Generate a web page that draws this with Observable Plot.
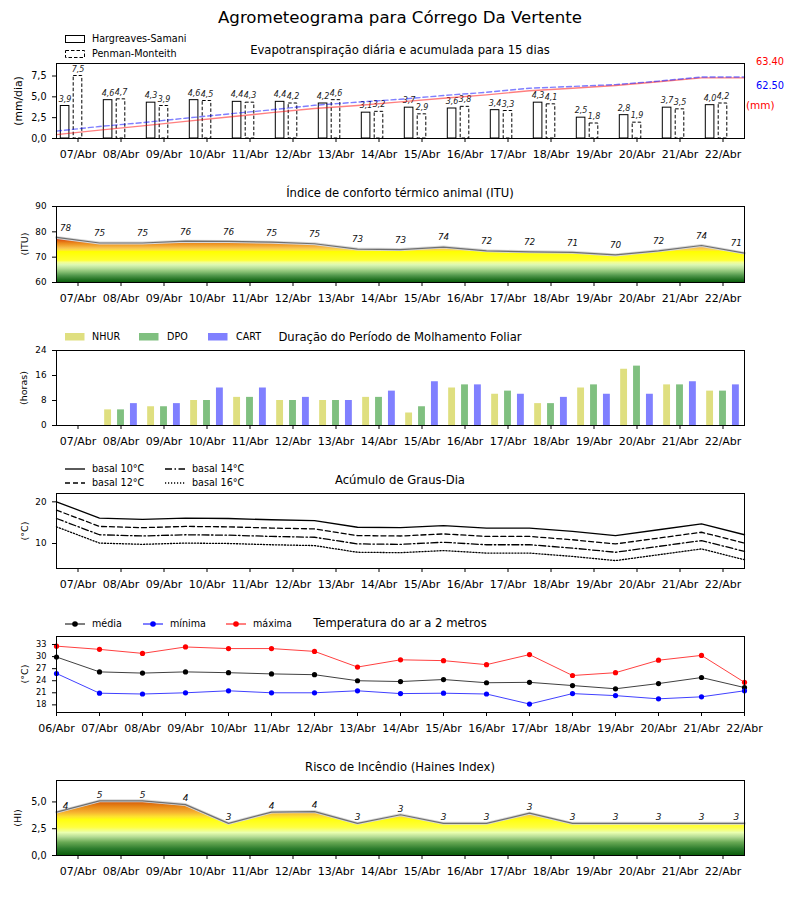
<!DOCTYPE html>
<html><head><meta charset="utf-8">
<script src="https://cdn.jsdelivr.net/npm/d3@7"></script>
<script src="https://cdn.jsdelivr.net/npm/@observablehq/plot@0.6"></script>
<style>
body{margin:0;background:#fff;font-family:"DejaVu Sans",sans-serif;}
#wrap{position:relative;width:800px;height:900px;overflow:hidden;background:#fff;}
</style></head>
<body><div id="wrap"></div>
<script>
// ---------------- DATA ----------------
const days = ["06/Abr","07/Abr","08/Abr","09/Abr","10/Abr","11/Abr","12/Abr","13/Abr","14/Abr","15/Abr","16/Abr","17/Abr","18/Abr","19/Abr","20/Abr","21/Abr","22/Abr"];
const forecastDays = days.slice(1);

const mainTitle = "Agrometeograma para Córrego Da Vertente";
const panelTitles = [
  "Evapotranspiração diária e acumulada para 15 dias",
  "Índice de conforto térmico animal (ITU)",
  "Duração do Período de Molhamento Foliar",
  "Acúmulo de Graus-Dia",
  "Temperatura do ar a 2 metros",
  "Risco de Incêndio (Haines Index)"
];

// Evapotranspiration (mm/dia), 07/Abr..22/Abr
const etHargreaves = [3.9,4.6,4.3,4.6,4.4,4.4,4.2,3.1,3.7,3.6,3.4,4.3,2.5,2.8,3.7,4.0];
const etPenman     = [7.5,4.7,3.9,4.5,4.3,4.2,4.6,3.2,2.9,3.8,3.3,4.1,1.8,1.9,3.5,4.2];
const etTotals = [63.40, 62.50];
const etSeriesNames = ["Hargreaves-Samani","Penman-Monteith"];

// ITU, 06/Abr..22/Abr
const ituLine   = [77.8,75.6,75.6,76.3,76.2,75.9,75.3,73.2,73.0,74.0,72.5,72.1,71.9,70.9,72.5,74.6,71.6];
const ituLabels = [78,75,75,76,76,75,75,73,73,74,72,72,71,70,72,74,71];

// Leaf wetness (horas), 07/Abr..22/Abr
const nhur = [0,5,6,8,9,8,8,9,4,12,10,7,12,18,13,11];
const dpo  = [0,5,6,8,9,8,8,9,6,13,11,7,13,19,13,11];
const cart = [0,7,7,12,12,9,8,11,14,13,10,9,10,10,14,13];
const wetNames = ["NHUR","DPO","CART"];

// Degree-days, 06/Abr..22/Abr
const gd10 = [20.0,16.1,15.8,16.1,16.0,15.7,15.5,13.9,13.8,14.3,13.7,13.7,12.9,11.9,13.3,14.7,12.1];
const gd12 = [18.0,14.1,13.8,14.1,14.0,13.7,13.5,11.9,11.8,12.3,11.7,11.7,10.9,9.9,11.3,12.7,10.1];
const gd14 = [16.0,12.1,11.8,12.1,12.0,11.7,11.5,9.9,9.8,10.3,9.7,9.7,8.9,7.9,9.3,10.7,8.1];
const gd16 = [14.0,10.1,9.8,10.1,10.0,9.7,9.5,7.9,7.8,8.3,7.7,7.7,6.9,5.9,7.3,8.7,6.1];
const gdNames = ["basal 10°C","basal 12°C","basal 14°C","basal 16°C"];

// Temperature (°C), 06/Abr..22/Abr
const tMed = [29.9,26.2,25.9,26.2,26.0,25.7,25.5,24.0,23.8,24.3,23.5,23.6,22.8,22.0,23.3,24.8,22.3];
const tMin = [25.8,20.9,20.7,21.0,21.5,21.0,21.0,21.5,20.8,20.9,20.7,18.2,20.8,20.3,19.5,20.0,21.5];
const tMax = [32.6,31.8,30.8,32.4,32.0,32.0,31.3,27.4,29.2,29.0,28.0,30.5,25.3,26.0,29.1,30.3,23.6];
const tempNames = ["média","mínima","máxima"];

// Haines index, 06/Abr..22/Abr
const haines = [4.05,5.1,5.1,4.75,3.0,4.05,4.1,3.0,3.8,3.0,3.0,3.95,3.0,3.0,3.0,3.0,3.0];

// ---------------- HELPERS ----------------
const FONT = "DejaVu Sans";
const wrap = document.getElementById("wrap");
const fmt1 = v => v.toFixed(1).replace(".", ",");

function label(str, x, y, {size=11, anchor="middle", color="#000", rotate=0, italic=false}={}) {
  const d = document.createElement("div");
  d.textContent = str;
  d.style.cssText = `position:absolute;left:${x}px;top:${y}px;font-size:${size}px;line-height:1;color:${color};white-space:nowrap;font-family:'${FONT}';` + (italic ? "font-style:italic;" : "");
  const tx = anchor === "middle" ? "-50%" : anchor === "end" ? "-100%" : "0";
  d.style.transform = `translate(${tx},-50%)` + (rotate ? ` rotate(${rotate}deg)` : "");
  wrap.appendChild(d);
  return d;
}

const MT = 10, MB = 30;
function base(top, bottom) {
  return {
    width: 800, height: bottom - top + MT + MB,
    marginLeft: 56, marginRight: 56, marginTop: MT, marginBottom: MB,
    style: {fontFamily: FONT, fontSize: "10px", color: "#000", background: "transparent", overflow: "visible"}
  };
}
function mount(svg, top) {
  svg.style.position = "absolute";
  svg.style.left = "0px";
  svg.style.top = (top - MT) + "px";
  wrap.appendChild(svg);
  return svg;
}
const xAxisFwd = () => Plot.axisX({ticks: d3.range(1, 17), tickFormat: i => days[i], tickSize: 4, tickPadding: 8, fontSize: 11, label: null});
const yAxis = (ticks, fmt, size) => Plot.axisY({ticks, tickFormat: fmt, tickSize: 4, tickPadding: 6, fontSize: size, label: null});
const frame = () => Plot.frame({stroke: "#000", strokeWidth: 1});

function addGradient(svg, id, yScale, stops) {
  const ns = "http://www.w3.org/2000/svg";
  const defs = document.createElementNS(ns, "defs");
  const g = document.createElementNS(ns, "linearGradient");
  g.setAttribute("id", id);
  g.setAttribute("gradientUnits", "userSpaceOnUse");
  const lo = stops[0][0], hi = stops[stops.length - 1][0];
  g.setAttribute("x1", 0); g.setAttribute("x2", 0);
  g.setAttribute("y1", yScale.apply(lo)); g.setAttribute("y2", yScale.apply(hi));
  for (const [v, c] of stops) {
    const s = document.createElementNS(ns, "stop");
    s.setAttribute("offset", (v - lo) / (hi - lo));
    s.setAttribute("stop-color", c);
    g.appendChild(s);
  }
  defs.appendChild(g);
  svg.insertBefore(defs, svg.firstChild);
}

// panel frames (top, bottom)
const F = [[63,138],[206,282],[350,425],[493,568],[636,712],[780,855]];

// ---------------- TITLES ----------------
label(mainTitle, 400, 18, {size: 16.6});
F.forEach(([t], k) => label(panelTitles[k], 400, t - 12, {size: 11.6}));

// ---------------- PANEL 1: ET ----------------
const etRows = forecastDays.map((d, k) => ({i: days.indexOf(d), hs: etHargreaves[k], pm: etPenman[k]}));
{
  const [t, b] = F[0];
  const p = Plot.plot({
    ...base(t, b),
    x: {domain: [0.5, 16.5]},
    y: {domain: [0, d3.max(etHargreaves.concat(etPenman)) * 1.2]},
    marks: [
      Plot.rect(etRows, {x1: d => d.i - 0.4, x2: d => d.i - 0.2, y1: 0, y2: "hs", fill: "white", stroke: "black", strokeWidth: 1}),
      Plot.rect(etRows, {x1: d => d.i - 0.1, x2: d => d.i + 0.1, y1: 0, y2: "pm", fill: "white", stroke: "black", strokeWidth: 1, strokeDasharray: "3.5,2"}),
      Plot.text(etRows, {x: d => d.i - 0.3, y: "hs", text: d => fmt1(d.hs), dy: -7, fontSize: 8, fontStyle: "italic", fill: "#222"}),
      Plot.text(etRows, {x: "i", y: "pm", text: d => fmt1(d.pm), dy: -7, fontSize: 8, fontStyle: "italic", fill: "#222"}),
      xAxisFwd(), yAxis([0, 2.5, 5, 7.5], fmt1, 9.6)
    ]
  });
  mount(p, t);
  const cumRows = arr => {
    const c = Array.from(d3.cumsum(arr));
    const rows = c.map((v, k) => ({x: k + 0.5, v}));
    rows.push({x: 16.5, v: c[c.length - 1]});
    return rows;
  };
  const ov = Plot.plot({
    ...base(t, b),
    x: {domain: [0.5, 16.5], axis: null},
    y: {domain: [0, d3.max(etTotals) * 1.2], axis: null},
    marks: [
      Plot.line(cumRows(etHargreaves), {x: "x", y: "v", stroke: "red", strokeOpacity: 0.5, strokeWidth: 1.4}),
      Plot.line(cumRows(etPenman), {x: "x", y: "v", stroke: "blue", strokeOpacity: 0.5, strokeWidth: 1.4, strokeDasharray: "5,3"}),
      frame()
    ]
  });
  mount(ov, t);
  label(etTotals[0].toFixed(2), 756, 62, {size: 9.8, anchor: "start", color: "red"});
  label(etTotals[1].toFixed(2), 756, 85.5, {size: 9.8, anchor: "start", color: "blue"});
  label("(mm)", 746, 105, {size: 10.5, anchor: "start", color: "red"});
  label("(mm/dia)", 19, (t + b) / 2, {size: 10.8, rotate: -90});
}

// ---------------- PANEL 2: ITU ----------------
{
  const [t, b] = F[1];
  const rows = days.map((d, i) => ({x: i + 0.5, v: ituLine[i], lab: ituLabels[i]}));
  const p = Plot.plot({
    ...base(t, b),
    x: {domain: [0.5, 16.5]},
    y: {domain: [60, 90]},
    marks: [
      Plot.areaY(rows, {x: "x", y1: 60, y2: "v", fill: "url(#gradITU)"}),
      Plot.line(rows, {x: "x", y: "v", stroke: "#d8d8d8", strokeWidth: 3}),
      Plot.line(rows, {x: "x", y: "v", stroke: "#707070", strokeWidth: 1.2}),
      Plot.text(rows, {x: d => Math.min(Math.max(d.x, 0.71), 16.31), y: "v", text: "lab", dy: -9.5, fontSize: 8.8, fontStyle: "italic", fill: "#111"}),
      xAxisFwd(), yAxis([60, 70, 80, 90], d => d, 8.8), frame()
    ]
  });
  addGradient(p, "gradITU", p.scale("y"), [
    [60, "#0b5e0b"], [61, "#237323"], [62.5, "#4f964a"], [64, "#86bf72"], [65.5, "#b9e09a"],
    [66.8, "#dcf8b4"], [67.8, "#f4ff90"], [68.6, "#ffff30"], [72, "#ffff00"], [72.6, "#ffe040"],
    [73.4, "#f8c450"], [74.4, "#f2a630"], [75.4, "#ea881c"], [76.4, "#e06010"], [77.2, "#d42008"], [78, "#cc0000"]
  ]);
  mount(p, t);
  label("(ITU)", 24.5, (t + b) / 2, {size: 9.5, rotate: -90});
}

// ---------------- PANEL 3: Molhamento ----------------
const wetColors = ["#dfdf80", "#80c080", "#8080ff"];
{
  const [t, b] = F[2];
  const rows = [];
  forecastDays.forEach((d, k) => {
    const i = days.indexOf(d);
    [nhur, dpo, cart].forEach((arr, s) => rows.push({i, s, off: (s - 1) * 0.3, v: arr[k]}));
  });
  const p = Plot.plot({
    ...base(t, b),
    x: {domain: [0.5, 16.5]},
    y: {domain: [0, 24]},
    marks: [
      Plot.rect(rows.filter(r => r.v > 0), {x1: d => d.i + d.off - 0.08, x2: d => d.i + d.off + 0.08, y1: 0, y2: "v", fill: d => wetColors[d.s]}),
      xAxisFwd(), yAxis([0, 8, 16, 24], d => d, 8.8), frame()
    ]
  });
  mount(p, t);
  label("(horas)", 24, (t + b) / 2, {size: 9.5, rotate: -90});
}

// ---------------- PANEL 4: Graus-Dia ----------------
const gdDash = [null, "5,3", "7,2.5,1.5,2.5", "1.2,1.8"];
{
  const [t, b] = F[3];
  const series = [gd10, gd12, gd14, gd16];
  const p = Plot.plot({
    ...base(t, b),
    x: {domain: [0.5, 16.5]},
    y: {domain: [4, 22]},
    marks: [
      ...series.map((arr, s) => Plot.line(days.map((d, i) => ({x: i + 0.5, v: arr[i]})), {x: "x", y: "v", stroke: "black", strokeWidth: 1.3, strokeDasharray: gdDash[s]})),
      xAxisFwd(), yAxis([10, 20], d => d, 8.8), frame()
    ]
  });
  mount(p, t);
  label("(°C)", 24.5, (t + b) / 2, {size: 9.5, rotate: -90});
}

// ---------------- PANEL 5: Temperatura ----------------
const tempColors = ["black", "blue", "red"];
{
  const [t, b] = F[4];
  const series = [tMed, tMin, tMax];
  const marks = [];
  series.forEach((arr, s) => {
    const rows = days.map((d, i) => ({x: i, v: arr[i]}));
    marks.push(Plot.line(rows, {x: "x", y: "v", stroke: tempColors[s], strokeWidth: 1, strokeOpacity: 0.75}));
    marks.push(Plot.dot(rows, {x: "x", y: "v", r: 2.6, fill: tempColors[s], stroke: "none"}));
  });
  const p = Plot.plot({
    ...base(t, b),
    x: {domain: [0, 16]},
    y: {domain: [16.1, 35]},
    marks: [
      ...marks,
      Plot.axisX({ticks: d3.range(0, 17), tickFormat: i => days[i], tickSize: 4, tickPadding: 8, fontSize: 11, label: null}),
      yAxis([18, 21, 24, 27, 30, 33], d => d, 8.2), frame()
    ]
  });
  mount(p, t);
  label("(°C)", 25, (t + b) / 2, {size: 9.5, rotate: -90});
}

// ---------------- PANEL 6: Haines ----------------
{
  const [t, b] = F[5];
  const rows = days.map((d, i) => ({x: i + 0.5, v: haines[i], lab: Math.trunc(haines[i])}));
  const p = Plot.plot({
    ...base(t, b),
    x: {domain: [0.5, 16.5]},
    y: {domain: [0, 7]},
    marks: [
      Plot.areaY(rows, {x: "x", y1: 0, y2: "v", fill: "url(#gradHI)"}),
      Plot.line(rows, {x: "x", y: "v", stroke: "#d8d8d8", strokeWidth: 3}),
      Plot.line(rows, {x: "x", y: "v", stroke: "#707070", strokeWidth: 1.2}),
      Plot.text(rows, {x: d => Math.min(Math.max(d.x, 0.71), 16.31), y: "v", text: "lab", dy: -6, fontSize: 9, fontStyle: "italic", fill: "#111"}),
      xAxisFwd(), yAxis([0, 2.5, 5], fmt1, 9.6), frame()
    ]
  });
  addGradient(p, "gradHI", p.scale("y"), [
    [0, "#0b5e0b"], [0.6, "#2e7d2e"], [1.2, "#6aaa55"], [1.7, "#b5dc95"], [2.1, "#eaffb0"],
    [2.6, "#ffff40"], [3.3, "#ffff10"], [3.6, "#fde030"], [4.0, "#f6b030"], [4.5, "#e88a18"],
    [5.0, "#d55a08"], [5.2, "#cc4a00"]
  ]);
  mount(p, t);
  label("(HI)", 18, (t + b) / 2, {size: 9.5, rotate: -90});
}

// ---------------- LEGENDS ----------------
{
  const ns = "http://www.w3.org/2000/svg";
  const s = document.createElementNS(ns, "svg");
  s.setAttribute("width", 800); s.setAttribute("height", 900);
  s.style.cssText = "position:absolute;left:0;top:0;pointer-events:none;";
  let h = "";
  // ET
  h += `<rect x="65.5" y="35.5" width="19" height="7" fill="white" stroke="black"/>`;
  h += `<rect x="65.5" y="50.5" width="19" height="7" fill="white" stroke="black" stroke-dasharray="3.5,2"/>`;
  // wetness
  [65, 139, 208].forEach((x, k) => { h += `<rect x="${x}" y="333" width="19.5" height="7.5" fill="${wetColors[k]}"/>`; });
  // degree days
  [[65, 469], [65, 483], [165, 469], [165, 483]].forEach(([x, y], k) => {
    h += `<line x1="${x}" x2="${x + 20}" y1="${y}" y2="${y}" stroke="black" stroke-width="1.3" ${gdDash[k] ? `stroke-dasharray="${gdDash[k]}"` : ""}/>`;
  });
  // temperature
  [65, 143, 226].forEach((x, k) => {
    h += `<line x1="${x}" x2="${x + 20}" y1="624" y2="624" stroke="${tempColors[k]}" stroke-width="1"/>`;
    h += `<circle cx="${x + 10}" cy="624" r="2.8" fill="${tempColors[k]}"/>`;
  });
  s.innerHTML = h;
  wrap.appendChild(s);
  const L = 9.6;
  label(etSeriesNames[0], 92, 38.5, {size: L, anchor: "start"});
  label(etSeriesNames[1], 92, 53.5, {size: L, anchor: "start"});
  [92, 167, 236].forEach((x, k) => label(wetNames[k], x, 337, {size: L, anchor: "start"}));
  [[92, 469], [92, 483], [192, 469], [192, 483]].forEach(([x, y], k) => label(gdNames[k], x, y, {size: L, anchor: "start"}));
  [92, 170, 253].forEach((x, k) => label(tempNames[k], x, 624, {size: L, anchor: "start"}));
}
</script>
</body></html>
